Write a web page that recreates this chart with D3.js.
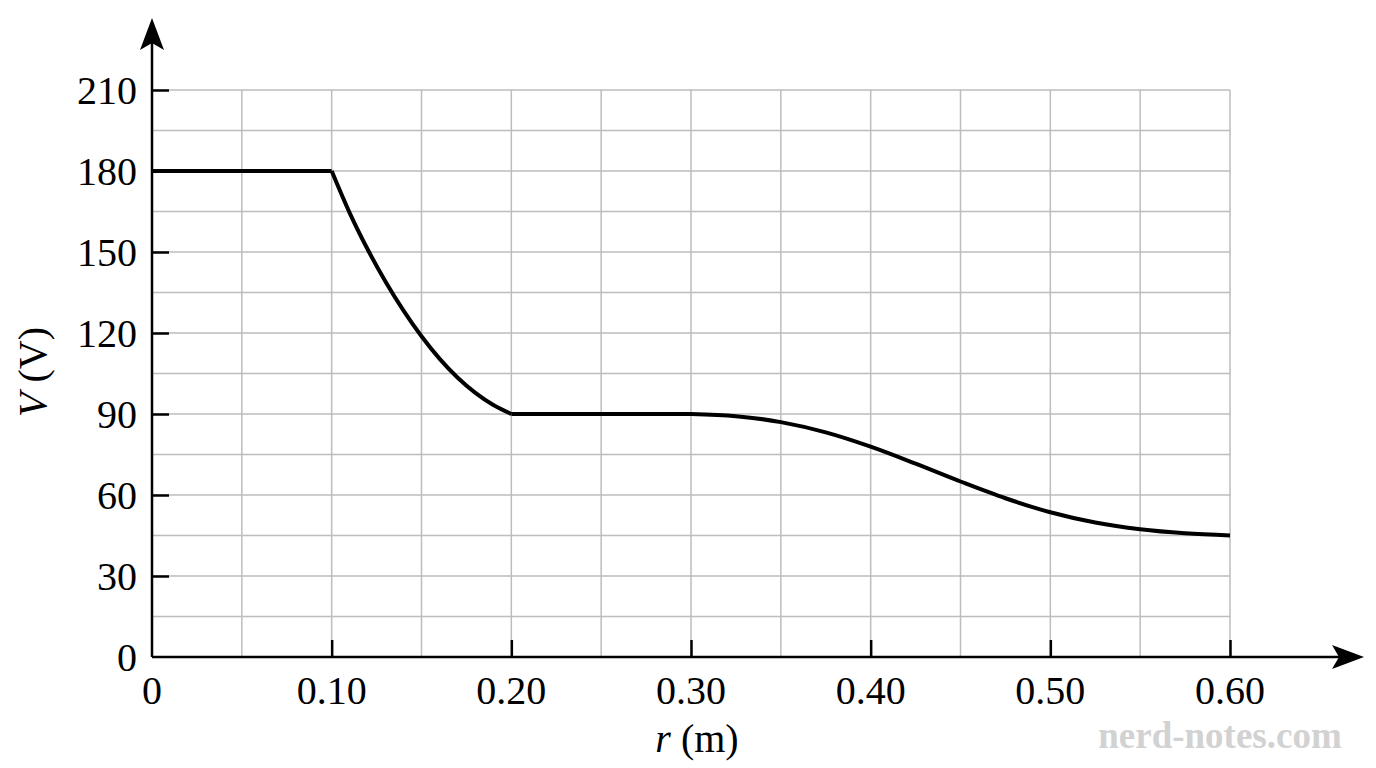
<!DOCTYPE html>
<html>
<head>
    <title>V vs r</title>
    <script src="https://d3js.org/d3.v7.min.js"></script>
    <style>
        body { margin: 0; background: #fff; }
        text { font-family: "Liberation Serif", "DejaVu Serif", serif; }
    </style>
</head>
<body>
<svg id="chart"></svg>
<script>
    var rValues = [0, 0.10, 0.11, 0.12, 0.13, 0.14, 0.15, 0.16, 0.17, 0.18, 0.19, 0.20,
                   0.30, 0.325, 0.35, 0.375, 0.40, 0.425, 0.45, 0.475, 0.50, 0.525, 0.55, 0.575, 0.60];
    var vValues = [180, 180, 164.5, 151, 139, 128.3, 118.8, 110.5, 103.5, 97.8, 93.3, 90,
                   90, 89.2, 87, 83.2, 77.9, 71.6, 65, 58.8, 53.6, 49.8, 47.3, 45.8, 45];
    // pieces of the curve (start index, end index) - corners between them
    var pieces = [[0, 1], [1, 11], [11, 12], [12, 24]];
    var xTicks = [0, 0.10, 0.20, 0.30, 0.40, 0.50, 0.60];
    var xTickLabels = ['0', '0.10', '0.20', '0.30', '0.40', '0.50', '0.60'];
    var yTicks = [0, 30, 60, 90, 120, 150, 180, 210];
    var xGrid = d3.range(1, 13).map(function(i) { return i * 0.05; });
    var yGrid = d3.range(1, 15).map(function(i) { return i * 15; });

    var width = 1376;
    var height = 768;

    var svg = d3.select('#chart')
        .attr('width', width)
        .attr('height', height);

    var x = d3.scaleLinear().domain([0, 0.6]).range([152, 1230]);
    var y = d3.scaleLinear().domain([0, 210]).range([657, 90]);

    // grid
    var grid = svg.append('g')
        .attr('stroke', '#bdbdbd')
        .attr('stroke-width', 1.5);

    grid.selectAll('line.v')
        .data(xGrid)
        .enter()
        .append('line')
        .attr('class', 'v')
        .attr('x1', function(d) { return x(d); })
        .attr('x2', function(d) { return x(d); })
        .attr('y1', y(0))
        .attr('y2', y(210));

    grid.selectAll('line.h')
        .data(yGrid)
        .enter()
        .append('line')
        .attr('class', 'h')
        .attr('x1', x(0))
        .attr('x2', x(0.6))
        .attr('y1', function(d) { return y(d); })
        .attr('y2', function(d) { return y(d); });

    // ticks (inside)
    svg.append('g')
        .attr('transform', 'translate(0,' + y(0) + ')')
        .call(d3.axisTop(x).tickValues(xTicks.slice(1)).tickSize(17).tickFormat(''))
        .call(function(g) { g.select('.domain').remove(); })
        .selectAll('line')
        .attr('stroke', '#000')
        .attr('stroke-width', 2.5);

    svg.append('g')
        .attr('transform', 'translate(' + x(0) + ',0)')
        .call(d3.axisRight(y).tickValues(yTicks.slice(1)).tickSize(17).tickFormat(''))
        .call(function(g) { g.select('.domain').remove(); })
        .selectAll('line')
        .attr('stroke', '#000')
        .attr('stroke-width', 2.5);

    // axis lines with arrows
    svg.append('line')
        .attr('x1', x(0)).attr('x2', 1345)
        .attr('y1', y(0)).attr('y2', y(0))
        .attr('stroke', '#000').attr('stroke-width', 2.5);
    svg.append('line')
        .attr('x1', x(0)).attr('x2', x(0))
        .attr('y1', y(0)).attr('y2', 38)
        .attr('stroke', '#000').attr('stroke-width', 2.5);

    svg.append('path')
        .attr('d', 'M1364,' + y(0) + ' L1332,' + (y(0) - 12) + ' L1339,' + y(0) + ' L1332,' + (y(0) + 12) + ' Z')
        .attr('fill', '#000');
    svg.append('path')
        .attr('d', 'M' + x(0) + ',18 L' + (x(0) - 12) + ',50 L' + x(0) + ',43 L' + (x(0) + 12) + ',50 Z')
        .attr('fill', '#000');

    // tick labels
    svg.selectAll('text.xl')
        .data(xTicks)
        .enter()
        .append('text')
        .attr('class', 'xl')
        .attr('x', function(d) { return x(d); })
        .attr('y', 704)
        .attr('text-anchor', 'middle')
        .style('font-size', '40px')
        .text(function(d, i) { return xTickLabels[i]; });

    svg.selectAll('text.yl')
        .data(yTicks)
        .enter()
        .append('text')
        .attr('class', 'yl')
        .attr('x', 137)
        .attr('y', function(d) { return y(d) + 14; })
        .attr('text-anchor', 'end')
        .style('font-size', '40px')
        .text(function(d) { return d; });

    // axis titles
    var xt = svg.append('text')
        .attr('x', 697)
        .attr('y', 752)
        .attr('text-anchor', 'middle')
        .style('font-size', '40px');
    xt.append('tspan').style('font-style', 'italic').text('r');
    xt.append('tspan').text(' (m)');

    var yt = svg.append('text')
        .attr('transform', 'translate(46,372) rotate(-90)')
        .attr('text-anchor', 'middle')
        .style('font-size', '40px');
    yt.append('tspan').style('font-style', 'italic').text('V');
    yt.append('tspan').text(' (V)');

    // curve
    var points = rValues.map(function(r, i) { return [r, vValues[i]]; });
    var line = d3.line()
        .x(function(d) { return x(d[0]); })
        .y(function(d) { return y(d[1]); })
        .curve(d3.curveMonotoneX);

    svg.selectAll('path.curve')
        .data(pieces)
        .enter()
        .append('path')
        .attr('class', 'curve')
        .attr('d', function(p) { return line(points.slice(p[0], p[1] + 1)); })
        .attr('fill', 'none')
        .attr('stroke', '#000')
        .attr('stroke-width', 4)
        .attr('stroke-linejoin', 'round');

    // watermark
    svg.append('text')
        .attr('x', 1220)
        .attr('y', 748)
        .attr('text-anchor', 'middle')
        .style('font-size', '37px')
        .style('font-weight', 'bold')
        .attr('fill', '#d2d2d2')
        .text('nerd-notes.com');
</script>
</body>
</html>
